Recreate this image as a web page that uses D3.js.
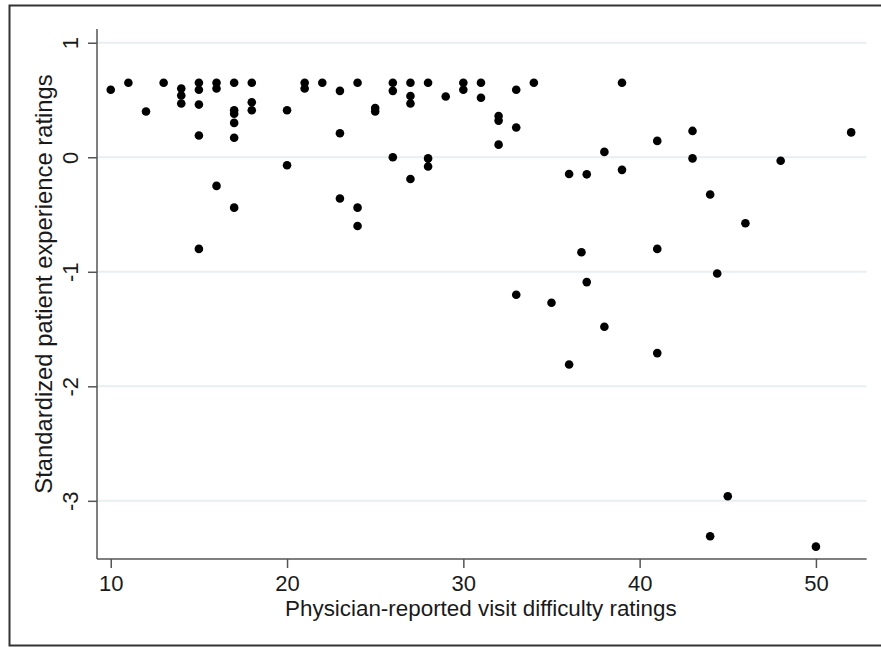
<!DOCTYPE html>
<html>
<head>
<meta charset="utf-8">
<script src="https://cdn.jsdelivr.net/npm/d3@7"></script>
<style>
  body { margin: 0; background: #fff; }
  text { font-family: "Liberation Sans", Arial, sans-serif; fill: #1a1a1a; }
</style>
</head>
<body>
<div id="chart"></div>
<script>
// physician-reported difficulty (x) vs standardized patient experience (y)
var difficulty = [
  10, 11, 12, 13,
  14, 14, 14,
  15, 15, 15, 15, 15,
  16, 16, 16,
  17, 17, 17, 17, 17, 17,
  18, 18, 18,
  20, 20,
  21, 21,
  22,
  23, 23, 23,
  24, 24, 24,
  25, 25,
  26, 26, 26,
  27, 27, 27, 27,
  28, 28, 28,
  29,
  30, 30,
  31, 31,
  32, 32, 32,
  33, 33, 33,
  34, 35,
  36, 36, 36.7,
  37, 37,
  38, 38,
  39, 39,
  41, 41, 41,
  43, 43,
  44, 44, 44.4,
  45, 46, 48, 50, 52
];
var experience = [
  0.59, 0.65, 0.40, 0.65,
  0.60, 0.54, 0.47,
  0.65, 0.59, 0.46, 0.19, -0.80,
  0.65, 0.60, -0.25,
  0.65, 0.41, 0.38, 0.30, 0.17, -0.44,
  0.65, 0.48, 0.41,
  0.41, -0.07,
  0.65, 0.60,
  0.65,
  0.58, 0.21, -0.36,
  0.65, -0.44, -0.60,
  0.43, 0.40,
  0.65, 0.58, 0.00,
  0.65, 0.535, 0.47, -0.19,
  0.65, -0.01, -0.08,
  0.53,
  0.65, 0.59,
  0.65, 0.52,
  0.36, 0.32, 0.11,
  0.59, 0.26, -1.20,
  0.65, -1.27,
  -0.146, -1.81, -0.83,
  -0.149, -1.09,
  0.047, -1.48,
  0.65, -0.11,
  0.143, -0.80, -1.71,
  0.23, -0.01,
  -0.325, -3.31, -1.015,
  -2.96, -0.576, -0.03, -3.40, 0.217
];
var xTicks = [10, 20, 30, 40, 50];
var yTicks = [1, 0, -1, -2, -3];

var width = 881,
  height = 647;

// plot region edges
var plotLeft = 97, plotRight = 866.7, plotTop = 29, plotBottom = 559;

var x = d3.scaleLinear().domain([9.22, 52.88]).range([plotLeft, plotRight]);
var y = d3.scaleLinear().domain([-3.508, 1.12]).range([plotBottom, plotTop]);

var svg = d3.select("#chart").append("svg")
    .attr("width", width)
    .attr("height", height);

// outer frame
svg.append("rect")
    .attr("x", 9.5)
    .attr("y", 5.5)
    .attr("width", 880)
    .attr("height", 640)
    .attr("fill", "none")
    .attr("stroke", "#333")
    .attr("stroke-width", 2);

// horizontal grid
svg.selectAll(".grid")
    .data(yTicks)
  .enter().append("line")
    .attr("class", "grid")
    .attr("x1", plotLeft)
    .attr("x2", plotRight)
    .attr("y1", function(d) { return y(d); })
    .attr("y2", function(d) { return y(d); })
    .attr("stroke", "#e7eff1")
    .attr("stroke-width", 2);

// x axis
var xAxis = svg.append("g")
    .attr("transform", "translate(0," + plotBottom + ")")
    .call(d3.axisBottom(x).tickValues(xTicks).tickSize(9).tickPadding(7).tickSizeOuter(0));

// y axis
var yAxis = svg.append("g")
    .attr("transform", "translate(" + plotLeft + ",0)")
    .call(d3.axisLeft(y).tickValues(yTicks).tickSize(9).tickSizeOuter(0)
      .tickFormat(function(d) { return d < 0 ? "-" + Math.abs(d) : d; }));

yAxis.selectAll(".tick text")
    .attr("x", null)
    .attr("dy", null)
    .attr("text-anchor", "middle")
    .attr("transform", "translate(-19,0) rotate(-90)");

[xAxis, yAxis].forEach(function(g) {
  g.select(".domain").attr("stroke", "#555").attr("stroke-width", 1.5);
  g.selectAll(".tick line").attr("stroke", "#555").attr("stroke-width", 1.5);
  g.selectAll(".tick text").attr("font-size", 22).attr("fill", "#1a1a1a")
      .attr("font-family", "'Liberation Sans', Arial, sans-serif");
});

// make the axis lines run the full plot region
yAxis.select(".domain").attr("d", "M0," + plotTop + "V" + plotBottom);
xAxis.select(".domain").attr("d", "M" + plotLeft + ",0H" + plotRight);

// points
svg.selectAll(".dot")
    .data(difficulty)
  .enter().append("circle")
    .attr("class", "dot")
    .attr("cx", function(d) { return x(d); })
    .attr("cy", function(d, i) { return y(experience[i]); })
    .attr("r", 4.3)
    .attr("fill", "#000");

// axis titles
svg.append("text")
    .attr("x", (plotLeft + plotRight) / 2 - 1)
    .attr("y", 616)
    .attr("text-anchor", "middle")
    .attr("font-size", 22.4)
    .text("Physician-reported visit difficulty ratings");

svg.append("text")
    .attr("transform", "translate(52," + 284 + ") rotate(-90)")
    .attr("text-anchor", "middle")
    .attr("font-size", 23.8)
    .text("Standardized patient experience ratings");
</script>
</body>
</html>
